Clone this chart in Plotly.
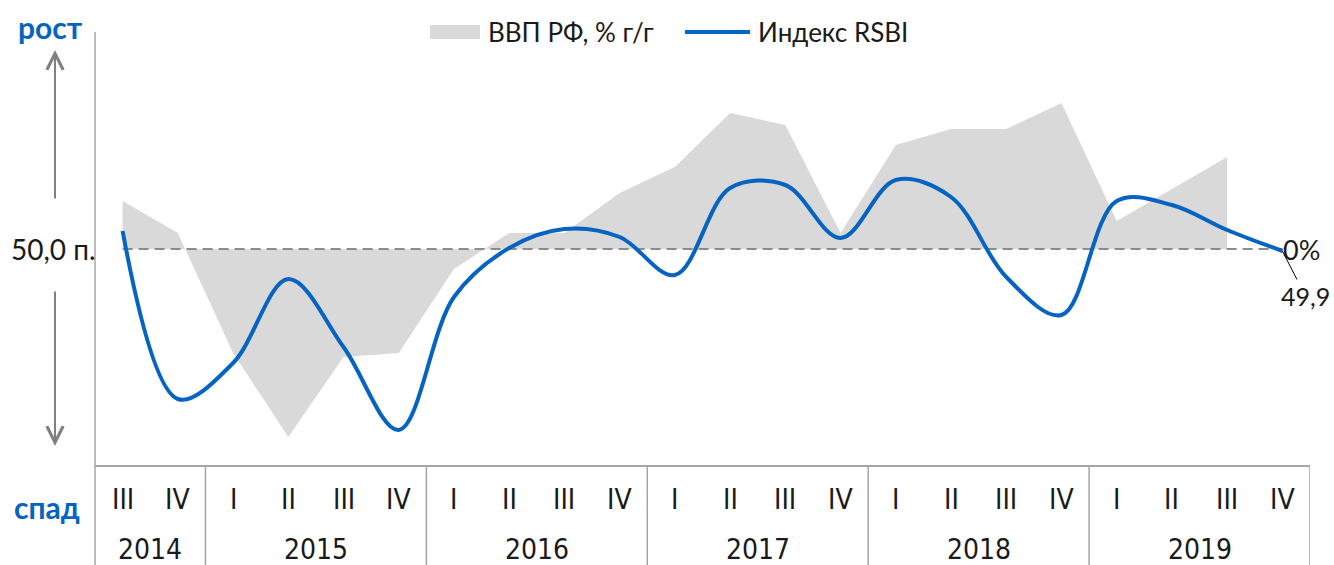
import plotly.graph_objects as go

# ---- data ----
years = ["2014", "2014",
         "2015", "2015", "2015", "2015",
         "2016", "2016", "2016", "2016",
         "2017", "2017", "2017", "2017",
         "2018", "2018", "2018", "2018",
         "2019", "2019", "2019", "2019"]
quarters = ["III", "IV",
            "I", "II", "III", "IV",
            "I", "II", "III", "IV",
            "I", "II", "III", "IV",
            "I", "II", "III", "IV",
            "I", "II", "III", "IV"]
gdp = [1.2, 0.4,
       -2.6, -4.7, -2.7, -2.6,
       -0.5, 0.4, 0.4, 1.4,
       2.05, 3.4, 3.1, 0.4,
       2.6, 3.0, 3.0, 3.65,
       0.7, 1.5, 2.3, None]
rsbi = [50.9, 42.5,
        44.3, 48.5, 45.1, 40.95,
        47.6, 50.05, 51.0, 50.6,
        48.7, 53.05, 53.2, 50.55,
        53.45, 52.6, 48.6, 46.7,
        52.4, 52.2, 50.95, 49.9]
baseline_gdp = 0
baseline_rsbi = 50.0
last_label = "49,9"
gdp_name = "ВВП РФ, % г/г"
rsbi_name = "Индекс RSBI"

cats = [f"{q} {y}" for q, y in zip(quarters, years)]

BLUE = "#0563C1"
GREY_FILL = "#d9d9d9"
AXIS_GREY = "#a6a6a6"
TEXT = "#1a1a1a"
FONT = "Lato, 'Open Sans', sans-serif"
NARROW = "'Liberation Sans Narrow', 'DejaVu Sans Condensed', sans-serif"

fig = go.Figure()

fig.add_trace(go.Scatter(
    x=cats, y=gdp, name=gdp_name, mode="none",
    fill="tozeroy", fillcolor=GREY_FILL, yaxis="y",
    hoverinfo="skip", showlegend=False))

fig.add_trace(go.Scatter(
    x=cats, y=[baseline_gdp] * len(cats), mode="lines",
    line=dict(color="#8c8c8c", width=2, dash="10px,6px"),
    showlegend=False, yaxis="y", hoverinfo="skip"))

fig.add_trace(go.Scatter(
    x=cats, y=rsbi, name=rsbi_name, mode="lines",
    line=dict(color=BLUE, width=4, shape="spline", smoothing=1.0),
    yaxis="y2", showlegend=False))

# pixel geometry
L, R, T, B = 95, 24, 0, 100
W, H = 1334, 565
plot_h = H - T - B
plot_w = W - L - R
base_px = 249          # pixel row of the 0% / 50 line
top_line_px = 32       # where the left border starts
gdp_px = 40.0          # px per %
rsbi_px = 20.0         # px per point
below = (H - B) - base_px
above = base_px - T
gdp_range = [-below / gdp_px, above / gdp_px]
rsbi_range = [baseline_rsbi - below / rsbi_px, baseline_rsbi + above / rsbi_px]


def py(pix_y):
    return (H - B - pix_y) / plot_h


def px(pix_x):
    return (pix_x - L) / plot_w


shapes = []
# left border line running into the category area
shapes.append(dict(type="line", xref="paper", yref="paper", x0=0, x1=0,
                   y0=py(H), y1=py(top_line_px),
                   line=dict(color=AXIS_GREY, width=1.5)))
# year separators
n = len(cats)
seps = [i - 0.5 for i in range(1, n) if years[i] != years[i - 1]] + [n - 0.5]
for s in seps:
    shapes.append(dict(type="line", xref="x", yref="paper", x0=s, x1=s,
                       y0=py(H), y1=0, line=dict(color=AXIS_GREY, width=1.5)))
# custom legend symbols
shapes.append(dict(type="rect", xref="paper", yref="paper",
                   x0=px(430), x1=px(480), y0=py(39), y1=py(25),
                   fillcolor=GREY_FILL, line=dict(width=0)))
shapes.append(dict(type="line", xref="paper", yref="paper",
                   x0=px(685), x1=px(750), y0=py(32), y1=py(32),
                   line=dict(color=BLUE, width=4)))

ann = []


def label(x, y, text, size, color=TEXT, family=FONT, xanchor="center",
          xref="paper", yref="paper", **kw):
    ann.append(dict(x=x, y=y, xref=xref, yref=yref, text=text, showarrow=False,
                    xanchor=xanchor, yanchor="middle",
                    font=dict(family=family, size=size, color=color), **kw))


label(px(486), py(32), gdp_name, 26, xanchor="left")
label(px(756), py(32), rsbi_name, 26, xanchor="left")

for i, q in enumerate(quarters):
    label(i, py(500), q, 28, family=NARROW, xref="x")
uniq = []
for y in years:
    if y not in uniq:
        uniq.append(y)
for y in uniq:
    idx = [i for i, v in enumerate(years) if v == y]
    label((idx[0] + idx[-1]) / 2, py(549), y, 28, family=NARROW, xref="x")

label(0, baseline_rsbi, "50,0 п.", 28, xanchor="right", yref="y2", xshift=3)
label(n - 1, baseline_gdp, "0%", 27, xanchor="left", xref="x", yref="y",
      xshift=-1)
ann.append(dict(x=n - 1, y=rsbi[-1], xref="x", yref="y2", text=last_label,
                showarrow=True, arrowhead=0, arrowwidth=1, arrowcolor="#000",
                ax=23, ay=45, standoff=0,
                font=dict(family=FONT, size=25, color=TEXT)))
label(px(50), py(27), "<b>рост</b>", 30, color=BLUE)
label(px(47), py(507), "<b>спад</b>", 30, color=BLUE)
# arrows
ann.append(dict(x=px(55), y=py(50), xref="paper", yref="paper", text="",
                showarrow=True, arrowhead=5, arrowsize=1.6, arrowwidth=2,
                arrowcolor="#808080", ax=0, ay=150, standoff=0))
ann.append(dict(x=px(55), y=py(446), xref="paper", yref="paper", text="",
                showarrow=True, arrowhead=5, arrowsize=1.6, arrowwidth=2,
                arrowcolor="#808080", ax=0, ay=-156, standoff=0))

fig.update_layout(
    width=W, height=H,
    margin=dict(l=L, r=R, t=T, b=B, autoexpand=False),
    paper_bgcolor="white", plot_bgcolor="white",
    font=dict(family=FONT, size=26, color=TEXT),
    showlegend=False,
    xaxis=dict(type="category", range=[-0.5, n - 0.5], showline=True,
               linecolor=AXIS_GREY, linewidth=1.5, showticklabels=False,
               ticks="", showgrid=False, zeroline=False, fixedrange=True),
    yaxis=dict(range=gdp_range, visible=False, fixedrange=True),
    yaxis2=dict(range=rsbi_range, overlaying="y", visible=False, fixedrange=True),
    shapes=shapes, annotations=ann,
)

fig.write_html("out.html", config={"displayModeBar": False},
               post_script="document.body.style.margin='0px';")
